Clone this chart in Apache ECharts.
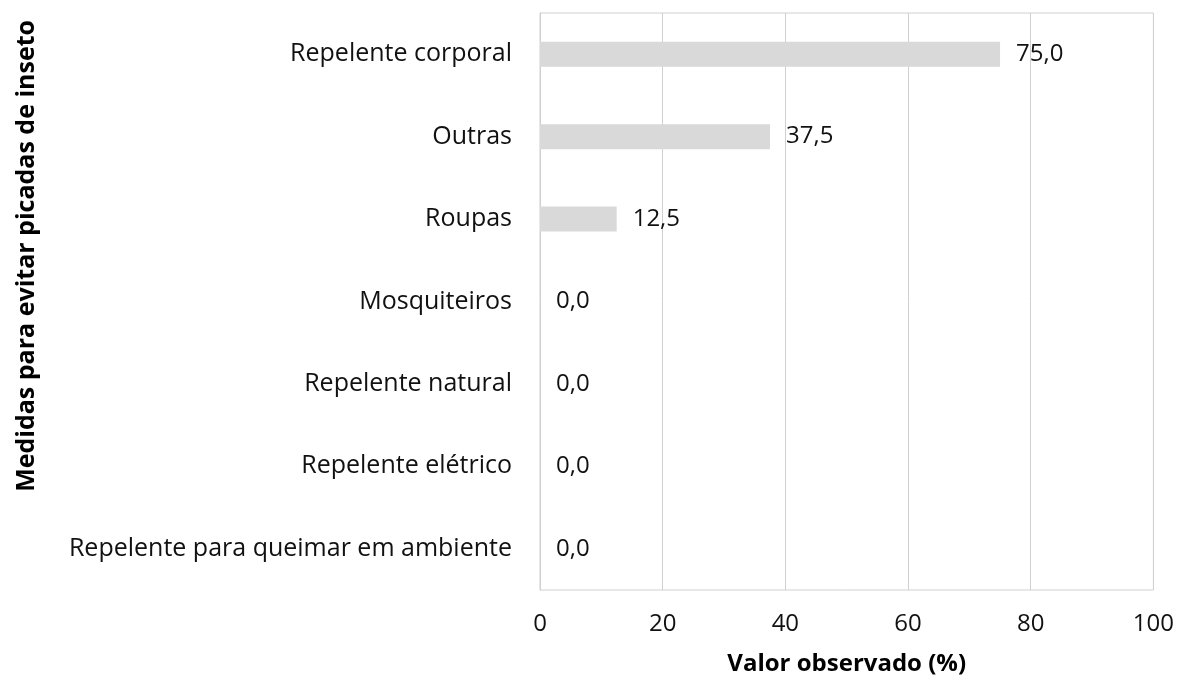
<!DOCTYPE html>
<html>
<head>
<meta charset="utf-8">
<script src="https://cdn.jsdelivr.net/npm/echarts@6/dist/echarts.min.js"></script>
<style>
  html, body { margin: 0; padding: 0; background: #fff; }
  #chart { width: 1177px; height: 681px; }
</style>
</head>
<body>
<div id="chart"></div>
<script>
// Measures used to avoid insect bites, top to bottom
const categories = [
  'Repelente corporal',
  'Outras',
  'Roupas',
  'Mosquiteiros',
  'Repelente natural',
  'Repelente elétrico',
  'Repelente para queimar em ambiente'
];
const values = [75.0, 37.5, 12.5, 0.0, 0.0, 0.0, 0.0];
const xTicks = [0, 20, 40, 60, 80, 100];

const FONT = '"Open Sans", Lato, sans-serif';
const gridColor = '#d0d0d0';
const textColor = '#111111';

const chart = echarts.init(document.getElementById('chart'), null, { renderer: 'canvas' });

chart.setOption({
  animation: false,
  backgroundColor: '#ffffff',
  grid: {
    left: 540, right: 21, top: 13, bottom: 91,
    show: true, borderColor: gridColor, borderWidth: 1
  },
  xAxis: {
    type: 'value',
    min: xTicks[0],
    max: xTicks[xTicks.length - 1],
    interval: xTicks[1] - xTicks[0],
    axisLine: { show: false },
    axisTick: { show: false },
    splitLine: { show: true, lineStyle: { color: gridColor, width: 1 } },
    axisLabel: { color: textColor, fontSize: 24, fontFamily: FONT, margin: 22 },
    name: 'Valor observado (%)',
    nameLocation: 'middle',
    nameGap: 62,
    nameTextStyle: { color: '#000', fontSize: 24, fontWeight: 'bold', fontFamily: FONT }
  },
  yAxis: {
    type: 'category',
    data: categories,
    inverse: true,
    axisLine: { show: true, lineStyle: { color: gridColor } },
    axisTick: { show: false },
    splitLine: { show: false },
    axisLabel: { color: textColor, fontSize: 25, fontFamily: FONT, margin: 28 }
  },
  graphic: [{
    type: 'text',
    left: 14,
    top: 20,
    rotation: Math.PI / 2,
    style: {
      text: 'Medidas para evitar picadas de inseto',
      fill: '#000',
      font: 'bold 25px ' + FONT
    }
  }],
  series: [{
    type: 'bar',
    data: values,
    barWidth: 25,
    itemStyle: { color: '#d9d9d9' },
    label: {
      show: true,
      position: 'right',
      distance: 16,
      color: textColor,
      fontSize: 24,
      fontFamily: FONT,
      formatter: p => p.value.toFixed(1).replace('.', ',')
    }
  }]
});
</script>
</body>
</html>
